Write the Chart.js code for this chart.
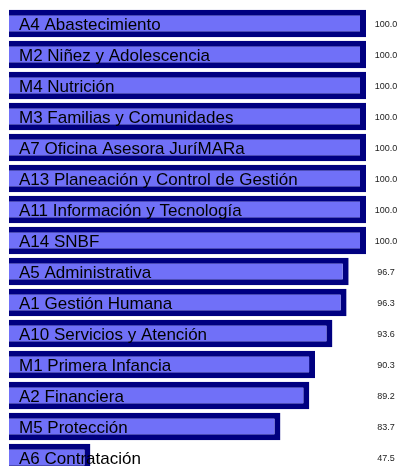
<!DOCTYPE html>
<html>
<head>
<meta charset="utf-8">
<script src="https://cdn.jsdelivr.net/npm/chart.js@4/dist/chart.umd.min.js"></script>
<style>
html,body{margin:0;padding:0;background:#fff;overflow:hidden;}
#wrap{position:relative;width:403px;height:480px;}
</style>
</head>
<body>
<div id="wrap"><canvas id="c"></canvas></div>
<script>
const categories = [
  "A4 Abastecimiento",
  "M2 Niñez y Adolescencia",
  "M4 Nutrición",
  "M3 Familias y Comunidades",
  "A7 Oficina Asesora JuríMARa",
  "A13 Planeación y Control de Gestión",
  "A11 Información y Tecnología",
  "A14 SNBF",
  "A5 Administrativa",
  "A1 Gestión Humana",
  "A10 Servicios y Atención",
  "M1 Primera Infancia",
  "A2 Financiera",
  "M5 Protección",
  "A6 Contratación"
];
const values = [100.0, 100.0, 100.0, 100.0, 100.0, 100.0, 100.0, 100.0, 96.7, 96.3, 93.6, 90.3, 89.2, 83.7, 47.5];

const labelPlugin = {
  id: 'barLabels',
  afterDatasetsDraw(chart) {
    const ctx = chart.ctx;
    const meta = chart.getDatasetMeta(0);
    ctx.save();
    meta.data.forEach((bar, i) => {
      const y = bar.y;
      ctx.fillStyle = '#000';
      ctx.font = '17px "Liberation Sans", Arial, sans-serif';
      ctx.textAlign = 'left';
      ctx.textBaseline = 'alphabetic';
      ctx.fillText(categories[i], 19, y + 6);
      ctx.fillStyle = '#222';
      ctx.font = '9px "Liberation Sans", Arial, sans-serif';
      ctx.textAlign = 'center';
      ctx.fillText(values[i].toFixed(1), 386, y + 3.5);
    });
    ctx.restore();
  }
};

new Chart(document.getElementById('c'), {
  type: 'bar',
  data: {
    labels: categories,
    datasets: [{
      data: values,
      backgroundColor: '#7070F8',
      borderColor: '#000080',
      borderWidth: 6,
      borderSkipped: false,
      barPercentage: 0.88,
      categoryPercentage: 1.0
    }]
  },
  options: {
    indexAxis: 'y',
    responsive: true,
    maintainAspectRatio: false,
    animation: false,
    layout: { padding: { left: 9, right: 37, top: 8, bottom: 7 } },
    plugins: { legend: { display: false }, tooltip: { enabled: false } },
    scales: {
      x: { display: false, min: 32, max: 100 },
      y: { display: false }
    }
  },
  plugins: [labelPlugin]
});
</script>
</body>
</html>
